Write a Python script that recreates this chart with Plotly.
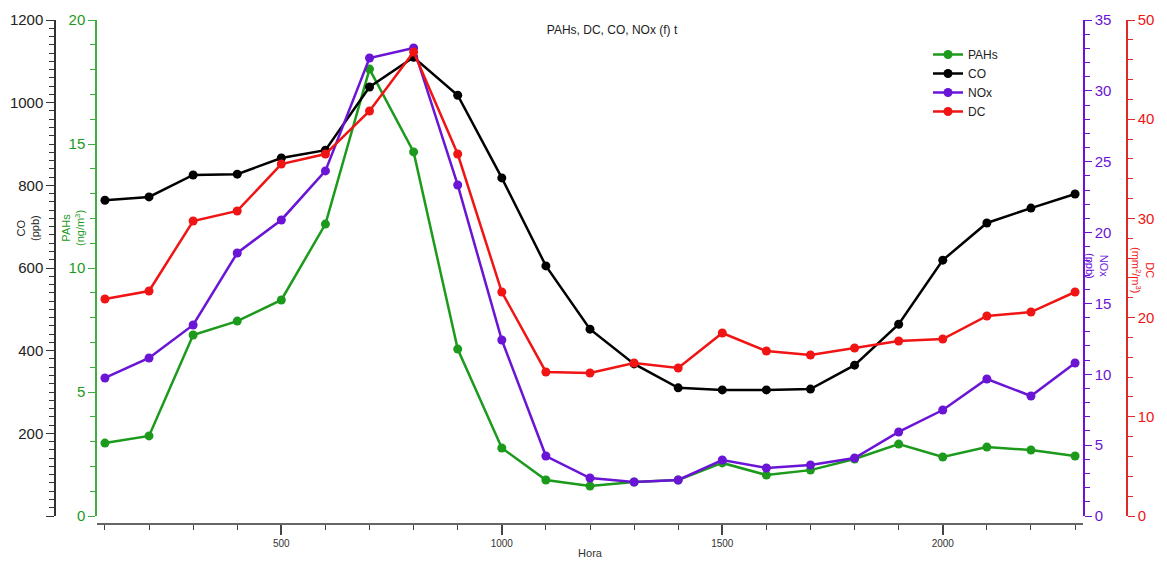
import plotly.graph_objects as go

hora = [100, 200, 300, 400, 500, 600, 700, 800, 900, 1000, 1100, 1200,
        1300, 1400, 1500, 1600, 1700, 1800, 1900, 2000, 2100, 2200, 2300]
pahs = [2.94, 3.23, 7.30, 7.86, 8.71, 11.77, 18.02, 14.68, 6.73, 2.74, 1.45, 1.21,
        1.37, 1.45, 2.14, 1.65, 1.85, 2.30, 2.90, 2.38, 2.78, 2.66, 2.42]
co = [764, 772, 825, 827, 866, 885, 1038, 1110, 1018, 818, 605, 452,
      368, 310, 305, 305, 307, 365, 464, 619, 709, 745, 779]
nox = [9.74, 11.15, 13.48, 18.56, 20.89, 24.35, 32.32, 33.03, 23.36, 12.42, 4.23, 2.68,
       2.40, 2.54, 3.95, 3.39, 3.60, 4.09, 5.93, 7.48, 9.67, 8.47, 10.80]
dc = [21.88, 22.68, 29.74, 30.75, 35.48, 36.49, 40.83, 46.77, 36.49, 22.58, 14.52, 14.42,
      15.42, 14.92, 18.45, 16.63, 16.23, 16.94, 17.64, 17.84, 20.16, 20.56, 22.58]

co_ticks = [0, 200, 400, 600, 800, 1000, 1200]
co_ticktext = ["", "200", "400", "600", "800", "1000", "1200"]

GREEN = "#1c9a1c"
GREEN_AX = "#3fae3f"
BLACK = "#000000"
PURPLE = "#6a14d6"
RED = "#f01414"
RED_AX = "#e02a2a"

W, H = 1167, 564
ML, MR, MT, MB = 5, 5, 20, 40
PW = W - ML - MR
PH = H - MT - MB


def px(x):
    return (x - ML) / PW


def py(y):
    return (H - MB - y) / PH


fig = go.Figure()
mk = dict(size=9)
fig.add_trace(go.Scatter(x=hora, y=pahs, name="PAHs", mode="lines+markers",
                         line=dict(color=GREEN, width=2.5), marker=dict(color=GREEN, **mk), yaxis="y"))
fig.add_trace(go.Scatter(x=hora, y=co, name="CO", mode="lines+markers",
                         line=dict(color=BLACK, width=2.5), marker=dict(color=BLACK, **mk), yaxis="y2"))
fig.add_trace(go.Scatter(x=hora, y=nox, name="NOx", mode="lines+markers",
                         line=dict(color=PURPLE, width=2.5), marker=dict(color=PURPLE, **mk), yaxis="y3"))
fig.add_trace(go.Scatter(x=hora, y=dc, name="DC", mode="lines+markers",
                         line=dict(color=RED, width=2.5), marker=dict(color=RED, **mk), yaxis="y4"))

ydom = [py(516), 1]
x0, x1 = px(97), px(1083)

fig.update_layout(
    width=W, height=H,
    margin=dict(l=ML, r=MR, t=MT, b=MB),
    paper_bgcolor="white", plot_bgcolor="white",
    font=dict(family="Liberation Sans, Arial, sans-serif", color="black"),
    title=dict(text="PAHs, DC, CO, NOx (f) t", x=px(612), xref="paper", xanchor="center",
               y=1 - 30 / H, yref="container", yanchor="middle",
               font=dict(size=12, color="#222")),
    showlegend=True,
    legend=dict(x=px(928), y=py(40), xanchor="left", yanchor="top",
                font=dict(size=12, color="#222"), bgcolor="rgba(0,0,0,0)",
                tracegroupgap=0, itemwidth=30),
    xaxis=dict(domain=[x0, x1], range=[82, 2318], anchor="free", position=0,
               showgrid=False, zeroline=False,
               showline=True, linecolor="#666", linewidth=2,
               tickmode="linear", tick0=0, dtick=500,
               ticks="outside", ticklen=10, tickwidth=1.5, tickcolor="#444",
               minor=dict(tickmode="linear", tick0=0, dtick=100, ticks="outside",
                          ticklen=5, tickwidth=1, tickcolor="#444"),
               tickfont=dict(size=10, color="#333"),
               title=dict(text="Hora", font=dict(size=11, color="#333"), standoff=0)),
    yaxis=dict(domain=ydom, range=[0, 20], anchor="x", side="left",
               showgrid=False, zeroline=False,
               showline=True, linecolor=GREEN_AX, linewidth=1.5,
               tickmode="linear", tick0=0, dtick=5,
               ticks="outside", ticklen=7, tickcolor=GREEN_AX,
               minor=dict(tickmode="linear", tick0=0, dtick=1, ticks="outside",
                          ticklen=5, tickcolor=GREEN_AX),
               tickfont=dict(size=15, color=GREEN)),
    yaxis2=dict(domain=ydom, range=[0, 1200], anchor="free", position=px(55),
                overlaying="y", side="left",
                showgrid=False, zeroline=False,
                showline=True, linecolor="#333", linewidth=1.5,
                tickmode="array", tickvals=co_ticks, ticktext=co_ticktext,
                ticks="outside", ticklen=8, tickcolor="#333",
                minor=dict(tickmode="linear", tick0=0, dtick=20, ticks="outside",
                           ticklen=5, tickcolor="#333"),
                tickfont=dict(size=15, color="#222")),
    yaxis3=dict(domain=ydom, range=[0, 35], anchor="x", overlaying="y", side="right",
                showgrid=False, zeroline=False,
                showline=True, linecolor=PURPLE, linewidth=1.5,
                tickmode="linear", tick0=0, dtick=5,
                ticks="outside", ticklen=7, tickcolor=PURPLE,
                minor=dict(tickmode="linear", tick0=0, dtick=1, ticks="outside",
                           ticklen=5, tickcolor=PURPLE),
                tickfont=dict(size=15, color=PURPLE)),
    yaxis4=dict(domain=ydom, range=[0, 50], anchor="free", position=px(1127),
                overlaying="y", side="right",
                showgrid=False, zeroline=False,
                showline=True, linecolor=RED_AX, linewidth=1.5,
                tickmode="linear", tick0=0, dtick=10,
                ticks="outside", ticklen=7, tickcolor=RED_AX,
                minor=dict(tickmode="linear", tick0=0, dtick=2, ticks="outside",
                           ticklen=5, tickcolor=RED_AX),
                tickfont=dict(size=15, color=RED)),
)

ann = [
    ("CO<br>(ppb)", 28, 228, -90, "#222"),
    ("PAHs<br>(ng/m<sup>3</sup>)", 73, 228, -90, GREEN),
    ("NOx<br>(ppb)", 1097, 266, 90, PURPLE),
    ("DC<br>(mm<sup>2</sup>/m<sup>3</sup>)", 1143, 270, 90, RED),
]
for text, ax_, ay_, ang, col in ann:
    fig.add_annotation(text=text, x=px(ax_), y=py(ay_), xref="paper", yref="paper",
                       showarrow=False, textangle=ang, xanchor="center", yanchor="middle",
                       font=dict(size=11, color=col))

fig.write_html("out.html", config={"displayModeBar": False},
               post_script="document.body.style.margin='0';document.body.style.padding='0';")
